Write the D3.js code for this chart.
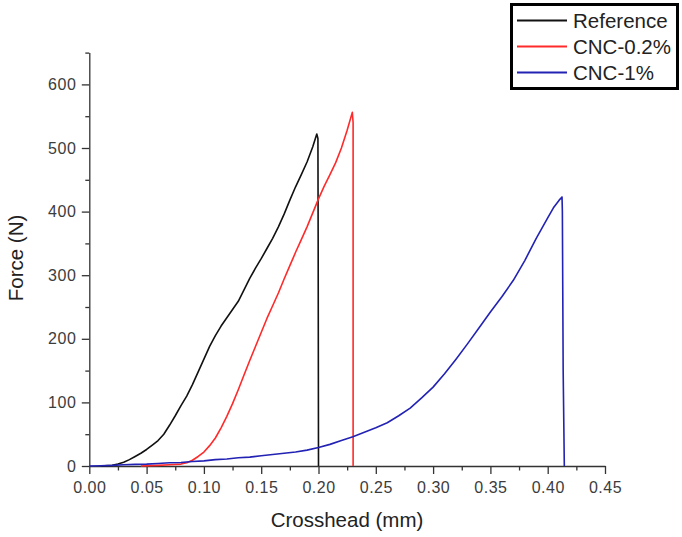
<!DOCTYPE html>
<html>
<head>
<meta charset="utf-8">
<script src="https://cdn.jsdelivr.net/npm/d3@7"></script>
<style>
  body { margin: 0; background: #fff; }
  svg { display: block; font-family: "Liberation Sans", Arial, sans-serif; }
</style>
</head>
<body>
<svg id="chart"></svg>
<script>
// crosshead (mm) vs force (N)
const refX = [0.01,0.02,0.025,0.03,0.035,0.04,0.045,0.05,0.055,0.06,0.065,0.07,0.075,0.08,0.085,0.09,0.095,0.1,0.105,0.11,0.115,0.12,0.125,0.13,0.135,0.14,0.145,0.15,0.155,0.16,0.165,0.17,0.175,0.18,0.185,0.19,0.195,0.1985,0.1995,0.1997,0.2]
const refF = [0,1,3,6,10,15,20,26,33,40,50,64,79,95,110,128,148,168,188,205,220,233,246,259,277,295,311,326,342,358,376,396,418,439,458,478,502,522,515,365,0]

const cnc02X = [0.045,0.06,0.07,0.08,0.085,0.09,0.095,0.1,0.105,0.11,0.115,0.12,0.125,0.13,0.135,0.14,0.145,0.15,0.155,0.16,0.165,0.17,0.175,0.18,0.185,0.19,0.195,0.2,0.205,0.21,0.215,0.22,0.225,0.2295,0.2302,0.2302]
const cnc02F = [0,1,2,3,5,9,15,22,32,44,60,78,98,120,143,166,188,210,232,252,272,294,315,336,356,376,398,420,440,458,477,500,528,556,540,0]

const cnc1X = [0,0.01,0.02,0.03,0.04,0.05,0.06,0.07,0.08,0.09,0.1,0.11,0.12,0.13,0.14,0.15,0.16,0.17,0.18,0.19,0.2,0.21,0.22,0.23,0.24,0.25,0.26,0.27,0.28,0.29,0.3,0.31,0.32,0.33,0.34,0.35,0.36,0.37,0.38,0.39,0.4,0.405,0.41,0.4125,0.4128,0.4135,0.4145]
const cnc1F = [0,0.5,1,2,2.5,3,4,5,5.5,7,8,10,11,13,14,16,18,20,22,25,29,34,40,46,53,60,68,79,91,107,124,145,168,192,217,242,266,292,323,358,390,406,418,423,400,150,0]

const seriesNames = ['Reference','CNC-0.2%','CNC-1%']
const seriesColors = ['#111111','#ff2a2a','#2222b4']
const xTicks = [0,0.05,0.1,0.15,0.2,0.25,0.3,0.35,0.4,0.45]
const xMinor = [0.025,0.075,0.125,0.175,0.225,0.275,0.325,0.375,0.425]
const yTicks = [0,100,200,300,400,500,600]
const yMinor = [50,150,250,350,450,550,650]

const width = 682, height = 537
const svg = d3.select('#chart').attr('width',width).attr('height',height)

const x = d3.scaleLinear().domain([0,0.45]).range([89.3,605])
const y = d3.scaleLinear().domain([0,650]).range([466,52.6])

const series = [
  {name: seriesNames[0], color: seriesColors[0], pts: d3.zip(refX, refF)},
  {name: seriesNames[1], color: seriesColors[1], pts: d3.zip(cnc02X, cnc02F)},
  {name: seriesNames[2], color: seriesColors[2], pts: d3.zip(cnc1X, cnc1F)}
]

// axes
const axCol = '#333'
svg.append('g').attr('transform',`translate(0,${y(0)})`)
  .call(d3.axisBottom(x).tickValues(xTicks).tickFormat(d3.format('.2f')).tickSize(8).tickSizeOuter(0).tickPadding(8))
const gxm = svg.append('g').attr('transform',`translate(0,${y(0)})`)
  .call(d3.axisBottom(x).tickValues(xMinor).tickFormat('').tickSize(4.5).tickSizeOuter(0))
gxm.select('.domain').remove()

svg.append('g').attr('transform',`translate(${x(0)},0)`)
  .call(d3.axisLeft(y).tickValues(yTicks).tickSize(7.5).tickSizeOuter(0).tickPadding(5.5))
const gym = svg.append('g').attr('transform',`translate(${x(0)},0)`)
  .call(d3.axisLeft(y).tickValues(yMinor).tickFormat('').tickSize(4).tickSizeOuter(0))
gym.select('.domain').remove()

svg.selectAll('.domain, .tick line').attr('stroke',axCol).attr('stroke-width',1.3)
svg.selectAll('.tick text').attr('fill','#3c3c3c').style('font-size','16px').style('letter-spacing','0.5px')
  .style('font-family','"Liberation Sans", Arial, sans-serif')

// axis titles
svg.append('text').attr('x',347).attr('y',527).attr('text-anchor','middle')
  .attr('fill','#222').style('font-size','20.5px').text('Crosshead (mm)')
svg.append('text').attr('transform','translate(23,258) rotate(-90)').attr('text-anchor','middle')
  .attr('fill','#222').style('font-size','20.5px').text('Force (N)')

// curves
const line = d3.line().x(d=>x(d[0])).y(d=>y(d[1]))
svg.selectAll('path.curve').data(series).join('path')
  .attr('class','curve')
  .attr('d',d=>line(d.pts))
  .style('fill','none')
  .style('stroke',d=>d.color)
  .style('stroke-width',1.6)
  .style('stroke-linejoin','round')

// legend
const lg = svg.append('g')
lg.append('rect').attr('x',511.5).attr('y',4.5).attr('width',166).attr('height',84)
  .attr('fill','#fff').attr('stroke','#000').attr('stroke-width',3)
const rows = lg.selectAll('g.row').data(series).join('g')
  .attr('class','row')
  .attr('transform',(d,i)=>`translate(0,${20.5 + i*26})`)
rows.append('line').attr('x1',517).attr('x2',567).attr('y1',0).attr('y2',0)
  .attr('stroke',d=>d.color).attr('stroke-width',1.8)
rows.append('text').attr('x',573).attr('y',7.5).attr('fill','#222')
  .style('font-size','20.5px').text(d=>d.name)
</script>
</body>
</html>
